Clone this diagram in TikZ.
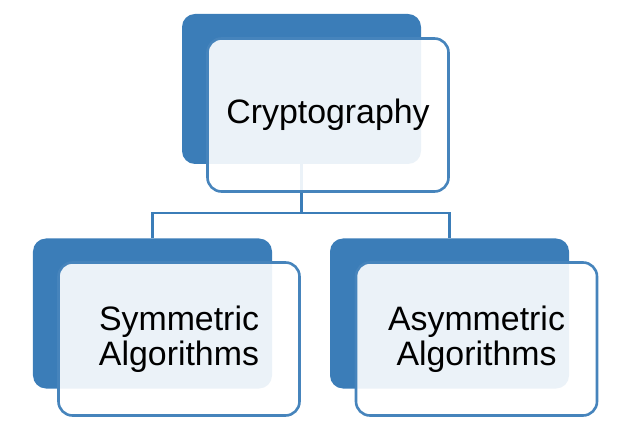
\documentclass[tikz,border=0pt]{standalone}
\usepackage{fontspec}
\setmainfont{Liberation Sans}
\definecolor{backblue}{HTML}{3B7DB8}
\definecolor{edgeblue}{HTML}{4684BC}
\begin{document}
\begin{tikzpicture}[x=1bp,y=-1bp,
  backbox/.style={draw=none,fill=backblue,rounded corners=13bp,minimum width=239bp,minimum height=150bp,outer sep=0pt,inner sep=0pt},
  frontbox/.style={draw=edgeblue,line width=2.6bp,fill=white,fill opacity=0.9,text opacity=1,rounded corners=14bp,minimum width=241bp,minimum height=153bp,inner sep=0pt,align=center,font=\fontsize{34}{35}\selectfont},
  conn/.style={draw=backblue,line width=2.8bp}]
\useasboundingbox (0,0) rectangle (622,446);
\node[backbox] (btop) at (301.5,89) {};
\node[backbox] (bleft) at (152.5,313.5) {};
\node[backbox] (bright) at (449.5,313.5) {};
\coordinate (j) at (301.5,213);
\draw[conn] (btop.south) -- (j);
\draw[conn] (bleft.north) |- (j) -| (bright.north);
\node[frontbox] (ftop) at (328,115) {Cryptography};
\node[frontbox] (fleft) at (179,339) {Symmetric\\Algorithms};
\node[frontbox] (fright) at (476.5,339) {Asymmetric\\Algorithms};
\end{tikzpicture}
\end{document}
